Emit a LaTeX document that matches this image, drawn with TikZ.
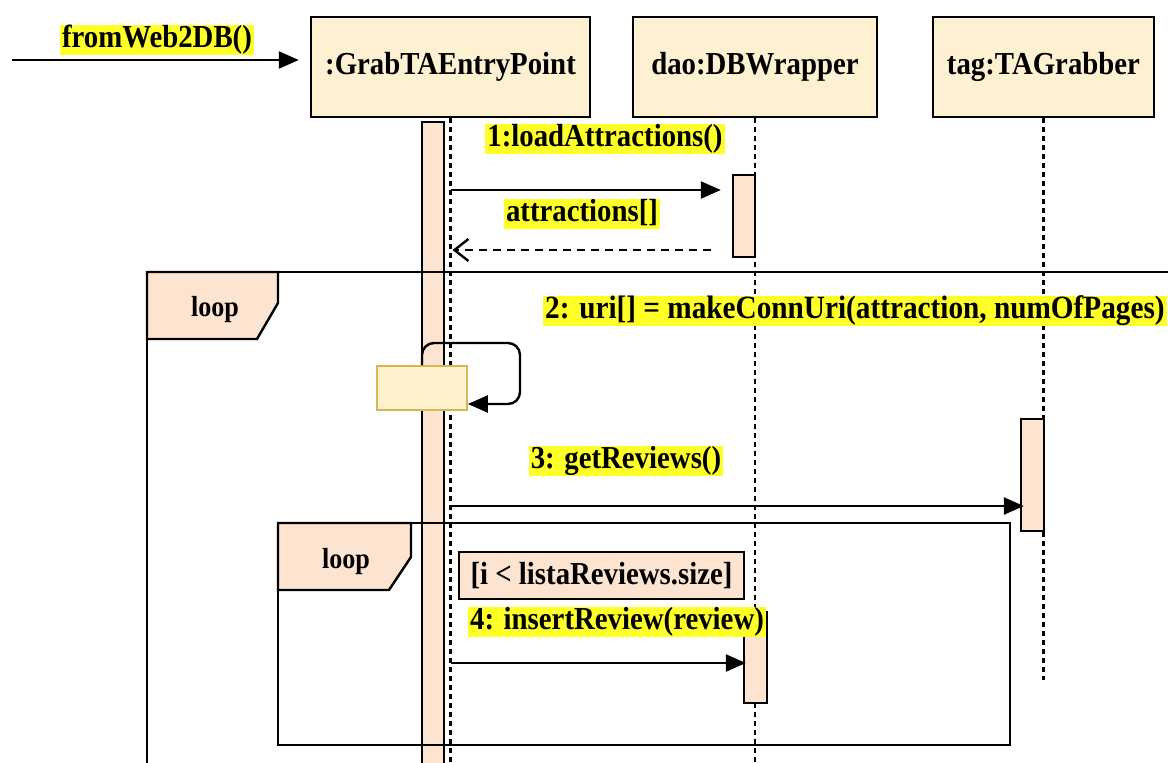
\documentclass[tikz,border=0pt]{standalone}
\usepackage{fontspec}
\setmainfont{Liberation Serif}[FakeStretch=0.9]
\usetikzlibrary{arrows.meta,calc}
\definecolor{boxfill}{RGB}{253,241,210}
\definecolor{actfill}{RGB}{252,228,208}
\definecolor{hl}{RGB}{255,255,40}
\definecolor{selffill}{RGB}{255,242,204}
\definecolor{selfdraw}{RGB}{214,182,86}
\newcommand\lblfont{\fontsize{32}{38}\selectfont\bfseries}
\newcommand\biglblfont{\fontsize{32.5}{38}\selectfont\bfseries}
\newcommand\loopfont{\fontsize{29}{34}\selectfont\bfseries}
\tikzset{
  part/.style={draw, line width=2.4pt, fill=boxfill, minimum height=100pt, font=\lblfont, inner sep=0pt},
  act/.style={draw, line width=2.4pt, fill=actfill, minimum width=22pt, inner sep=0pt},
  life/.style={line width=2.4pt, dash pattern=on 5pt off 4pt},
  msg/.style={line width=2.4pt, -{Triangle[length=20pt,width=17pt]}},
  ret/.style={line width=2.4pt, dash pattern=on 8pt off 6pt, -{Straight Barb[length=14pt,width=22pt,line width=2.4pt]}},
  hlbl/.style={fill=hl, font=\lblfont, inner xsep=2pt, inner ysep=1pt, text height=22pt, text depth=6.5pt},
  frame/.style={line width=2.4pt},
  tab/.style={line width=2.4pt, fill=actfill},
  looplbl/.style={font=\loopfont, inner sep=0pt},
  guard/.style={draw, line width=2.4pt, fill=actfill, font=\lblfont, inner sep=0pt},
  selfbox/.style={draw=selfdraw, line width=1.8pt, fill=selffill, inner sep=0pt}
}
\begin{document}
\begin{tikzpicture}[x=1pt,y=-1pt]
\useasboundingbox (0,0) rectangle (1168,763);
\clip (0,0) rectangle (1168,763);
\fill[white] (0,0) rectangle (1168,763);

% helper coordinates
\coordinate (bot) at (0,800);
\coordinate (tend) at (0,680);
\coordinate (start) at (12,60);
\coordinate (m1) at (0,190);
\coordinate (m2) at (0,250);
\coordinate (m3) at (0,506);
\coordinate (m4) at (0,663);
\coordinate (sl) at (520,343);

% participants
\node[part, minimum width=279pt] (g) at (450.5,67) {:GrabTAEntryPoint};
\node[part, minimum width=244pt] (d) at (755,67) {dao:DBWrapper};
\node[part, minimum width=221pt] (t) at (1043.5,67) {tag:TAGrabber};

% lifelines
\draw[life] (g.south) -- (g.south |- bot);
\draw[life] (d.south) -- (d.south |- bot);
\draw[life] (t.south) -- (t.south |- tend);

% activation bars
\node[act, minimum height=678pt] (a0) at (433,461) {};
\node[act, minimum height=82pt] (a1) at (744,216) {};
\node[act, minimum width=23pt, minimum height=112pt] (a3) at (1032.5,475) {};
\node[act, minimum width=23pt, minimum height=91pt] (a4) at (755.5,657.5) {};

% outer loop frame
\draw[frame] (147,272) -- (1200,272);
\draw[frame] (147,272) -- (147,800);
\draw[tab] (147,272) -- (278,272) -- (278,303) -- (257,339) -- (147,339) -- cycle;
\node[looplbl] (l1) at (215,310) {loop};

% inner loop frame
\draw[frame] (278,523) rectangle (1010,745);
\draw[tab] (278,523) -- (411,523) -- (411,557) -- (389,590) -- (278,590) -- cycle;
\node[looplbl] (l2) at (346,562) {loop};

% guard
\node[guard, minimum width=285pt, minimum height=47pt] (gd) at (601.5,575.5) {[i < listaReviews.size]};

% entry message
\draw[msg] (start) -- ($(g.west |- start)+(-11,0)$);
\node[hlbl] (lin) at (157,40) {fromWeb2DB()};

% message 1 and return
\draw[msg] (g.south |- m1) -- ($(a1.west |- m1)+(-11,0)$);
\node[hlbl] (lb1) at (605,139) {1:loadAttractions()};
\draw[ret] ($(a1.west |- m2)+(-21,0)$) -- ($(g.south |- m2)+(2,0)$);
\node[hlbl] (lr1) at (582,214) {attractions[]};

% self call 2
\node[hlbl, font=\biglblfont, anchor=west] (lb2) at (543,311) {2: uri[] = makeConnUri(attraction, numOfPages)};
\node[selfbox, minimum width=90pt, minimum height=44pt] (s) at (422,388) {};
\draw[msg, rounded corners=12pt] (s.north) |- (sl) |- ($(s.east)+(0,16)$);

% message 3
\draw[msg] (g.south |- m3) -- ($(a3.west |- m3)+(4,0)$);
\node[hlbl] (lb3) at (626,461) {3: getReviews()};

% message 4
\draw[msg] (g.south |- m4) -- ($(a4.west |- m4)+(3,0)$);
\node[hlbl] (lb4) at (617,622) {4: insertReview(review)};
\end{tikzpicture}
\end{document}
